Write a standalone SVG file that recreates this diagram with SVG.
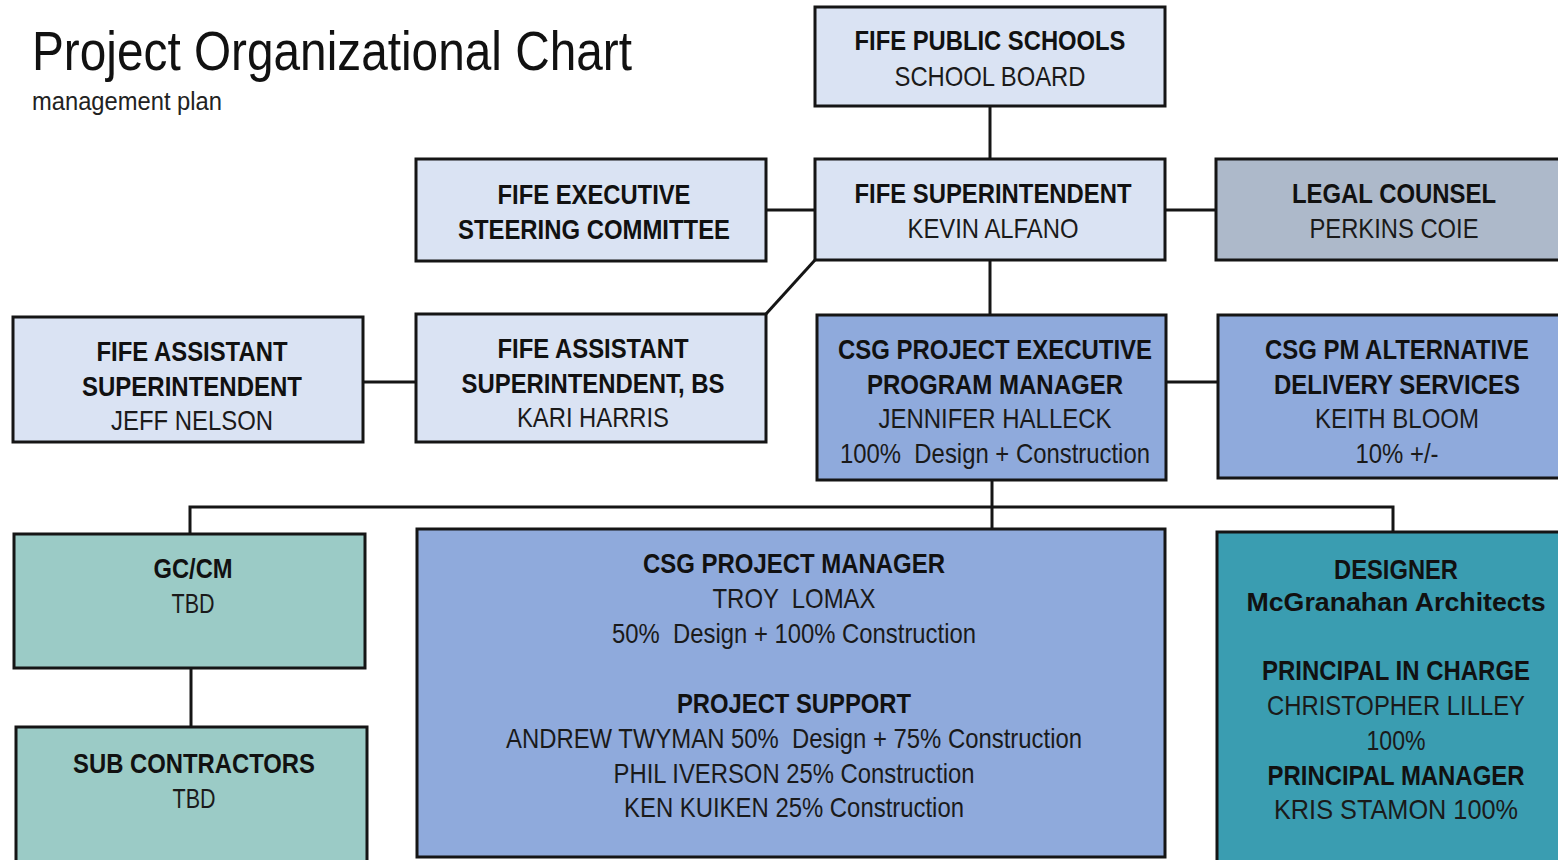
<svg xmlns="http://www.w3.org/2000/svg" width="1558" height="860" viewBox="0 0 1558 860">
<style>
.box{stroke:#151515;stroke-width:3}
.lb{fill:#dae3f3}
.gr{fill:#adb9ca}
.bl{fill:#8faadc}
.tl{fill:#9bcbc6}
.dt{fill:#3a9db1}
text{font-family:"Liberation Sans",Arial,sans-serif;text-anchor:middle;fill:#1a1a1a;font-size:28px}
.b{font-weight:bold;fill:#111}
.conn line,.conn path{stroke:#151515;stroke-width:3;fill:none}
</style>
<rect width="1558" height="860" fill="#ffffff"/>
<text x="32" y="70" style="text-anchor:start;font-size:56px;fill:#111" textLength="600" lengthAdjust="spacingAndGlyphs">Project Organizational Chart</text>
<text x="32" y="110" style="text-anchor:start;font-size:25px;fill:#222" textLength="190" lengthAdjust="spacingAndGlyphs">management plan</text>
<g class="conn">
<line x1="990" y1="106" x2="990" y2="159"/>
<line x1="766" y1="210" x2="815" y2="210"/>
<line x1="1165" y1="210" x2="1216" y2="210"/>
<line x1="815" y1="260" x2="766" y2="314"/>
<line x1="990" y1="260" x2="990" y2="315"/>
<line x1="363" y1="382" x2="416" y2="382"/>
<line x1="1166" y1="382" x2="1218" y2="382"/>
<line x1="992" y1="480" x2="992" y2="529"/>
<path d="M190 534 V507 H1393 V532"/>
<line x1="191" y1="668" x2="191" y2="727"/>
</g>
<g id="school-board"><rect class="box lb" x="815" y="7" width="350" height="99"/>
<text class="b" x="990" y="50" textLength="271" lengthAdjust="spacingAndGlyphs">FIFE PUBLIC SCHOOLS</text>
<text x="990" y="86" textLength="191" lengthAdjust="spacingAndGlyphs">SCHOOL BOARD</text></g>
<g id="steering"><rect class="box lb" x="416" y="159" width="350" height="102"/>
<text class="b" x="594" y="204" textLength="193" lengthAdjust="spacingAndGlyphs">FIFE EXECUTIVE</text>
<text class="b" x="594" y="239" textLength="272" lengthAdjust="spacingAndGlyphs">STEERING COMMITTEE</text></g>
<g id="superintendent"><rect class="box lb" x="815" y="159" width="350" height="101"/>
<text class="b" x="993" y="203" textLength="277" lengthAdjust="spacingAndGlyphs">FIFE SUPERINTENDENT</text>
<text x="993" y="238" textLength="171" lengthAdjust="spacingAndGlyphs">KEVIN ALFANO</text></g>
<g id="legal"><rect class="box gr" x="1216" y="159" width="345" height="101"/>
<text class="b" x="1394" y="203" textLength="204" lengthAdjust="spacingAndGlyphs">LEGAL COUNSEL</text>
<text x="1394" y="238" textLength="169" lengthAdjust="spacingAndGlyphs">PERKINS COIE</text></g>
<g id="asst-super"><rect class="box lb" x="13" y="317" width="350" height="125"/>
<text class="b" x="192" y="361" textLength="191" lengthAdjust="spacingAndGlyphs">FIFE ASSISTANT</text>
<text class="b" x="192" y="396" textLength="220" lengthAdjust="spacingAndGlyphs">SUPERINTENDENT</text>
<text x="192" y="430" textLength="162" lengthAdjust="spacingAndGlyphs">JEFF NELSON</text></g>
<g id="asst-super-bs"><rect class="box lb" x="416" y="314" width="350" height="128"/>
<text class="b" x="593" y="358" textLength="191" lengthAdjust="spacingAndGlyphs">FIFE ASSISTANT</text>
<text class="b" x="593" y="393" textLength="263" lengthAdjust="spacingAndGlyphs">SUPERINTENDENT, BS</text>
<text x="593" y="427" textLength="152" lengthAdjust="spacingAndGlyphs">KARI HARRIS</text></g>
<g id="program-manager"><rect class="box bl" x="817" y="315" width="349" height="165"/>
<text class="b" x="995" y="359" textLength="314" lengthAdjust="spacingAndGlyphs">CSG PROJECT EXECUTIVE</text>
<text class="b" x="995" y="394" textLength="256" lengthAdjust="spacingAndGlyphs">PROGRAM MANAGER</text>
<text x="995" y="428" textLength="233" lengthAdjust="spacingAndGlyphs">JENNIFER HALLECK</text>
<text x="995" y="463" textLength="310" lengthAdjust="spacingAndGlyphs" xml:space="preserve">100%  Design + Construction</text></g>
<g id="alt-delivery"><rect class="box bl" x="1218" y="315" width="343" height="163"/>
<text class="b" x="1397" y="359" textLength="264" lengthAdjust="spacingAndGlyphs">CSG PM ALTERNATIVE</text>
<text class="b" x="1397" y="394" textLength="246" lengthAdjust="spacingAndGlyphs">DELIVERY SERVICES</text>
<text x="1397" y="428" textLength="164" lengthAdjust="spacingAndGlyphs">KEITH BLOOM</text>
<text x="1397" y="463" textLength="83" lengthAdjust="spacingAndGlyphs">10% +/-</text></g>
<g id="gccm"><rect class="box tl" x="14" y="534" width="351" height="134"/>
<text class="b" x="193" y="578" textLength="79" lengthAdjust="spacingAndGlyphs">GC/CM</text>
<text x="193" y="613" textLength="43" lengthAdjust="spacingAndGlyphs">TBD</text></g>
<g id="subs"><rect class="box tl" x="16" y="727" width="351" height="135"/>
<text class="b" x="194" y="773" textLength="242" lengthAdjust="spacingAndGlyphs">SUB CONTRACTORS</text>
<text x="194" y="808" textLength="43" lengthAdjust="spacingAndGlyphs">TBD</text></g>
<g id="project-manager"><rect class="box bl" x="417" y="529" width="748" height="328"/>
<text class="b" x="794" y="573" textLength="302" lengthAdjust="spacingAndGlyphs">CSG PROJECT MANAGER</text>
<text x="794" y="608" textLength="163" lengthAdjust="spacingAndGlyphs" xml:space="preserve">TROY  LOMAX</text>
<text x="794" y="643" textLength="364" lengthAdjust="spacingAndGlyphs" xml:space="preserve">50%  Design + 100% Construction</text>
<text class="b" x="794" y="713" textLength="234" lengthAdjust="spacingAndGlyphs">PROJECT SUPPORT</text>
<text x="794" y="748" textLength="576" lengthAdjust="spacingAndGlyphs" xml:space="preserve">ANDREW TWYMAN 50%  Design + 75% Construction</text>
<text x="794" y="783" textLength="361" lengthAdjust="spacingAndGlyphs">PHIL IVERSON 25% Construction</text>
<text x="794" y="817" textLength="340" lengthAdjust="spacingAndGlyphs">KEN KUIKEN 25% Construction</text></g>
<g id="designer"><rect class="box dt" x="1217" y="532" width="344" height="330"/>
<text class="b" x="1396" y="579" textLength="124" lengthAdjust="spacingAndGlyphs">DESIGNER</text>
<text class="b" x="1396" y="611" style="font-size:25px" textLength="299" lengthAdjust="spacingAndGlyphs">McGranahan Architects</text>
<text class="b" x="1396" y="680" textLength="268" lengthAdjust="spacingAndGlyphs">PRINCIPAL IN CHARGE</text>
<text x="1396" y="715" textLength="258" lengthAdjust="spacingAndGlyphs">CHRISTOPHER LILLEY</text>
<text x="1396" y="750" textLength="59" lengthAdjust="spacingAndGlyphs">100%</text>
<text class="b" x="1396" y="785" textLength="257" lengthAdjust="spacingAndGlyphs">PRINCIPAL MANAGER</text>
<text x="1396" y="819" textLength="244" lengthAdjust="spacingAndGlyphs">KRIS STAMON 100%</text></g>
</svg>
